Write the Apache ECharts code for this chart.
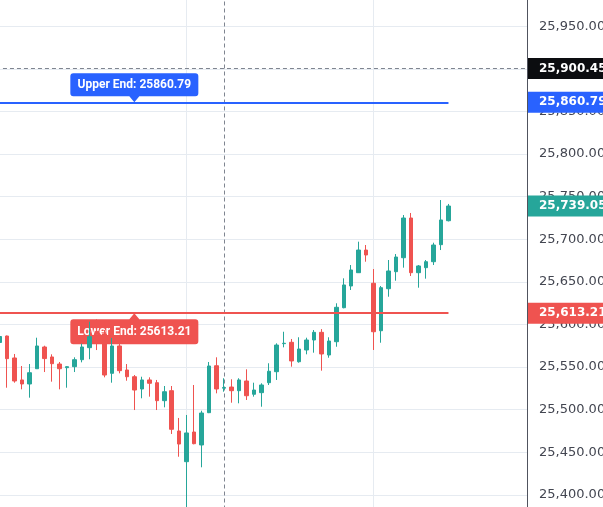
<!DOCTYPE html>
<html>
<head>
<meta charset="utf-8">
<script src="https://cdn.jsdelivr.net/npm/echarts@6/dist/echarts.min.js"></script>
<style>
html,body{margin:0;padding:0;background:#ffffff;}
#chart{width:603px;height:507px;}
</style>
</head>
<body>
<div id="chart"></div>
<script>
// ---- data ----
const categories = Array.from({ length: 71 }, (_, i) => 'Bar ' + (i + 1));

// [open, close, low, high]
const ohlc = [
  [25578.9, 25585.9, 25576.0, 25588.0],
  [25586.5, 25559.9, 25525.8, 25587.0],
  [25560.7, 25533.7, 25531.7, 25565.4],
  [25534.9, 25530.2, 25523.9, 25551.3],
  [25530.2, 25543.4, 25514.1, 25553.6],
  [25548.1, 25574.8, 25548.0, 25584.5],
  [25573.6, 25560.0, 25544.2, 25575.1],
  [25561.9, 25554.0, 25532.9, 25565.0],
  [25553.6, 25548.1, 25523.9, 25556.0],
  [25549.3, 25550.5, 25525.8, 25551.0],
  [25550.5, 25558.7, 25544.2, 25561.5],
  [25558.7, 25573.6, 25555.6, 25577.5],
  [25572.8, 25585.7, 25559.2, 25603.3],
  [25592.0, 25588.0, 25570.0, 25606.0],
  [25588.8, 25540.7, 25538.0, 25593.5],
  [25542.7, 25574.8, 25531.7, 25584.2],
  [25574.8, 25545.8, 25542.7, 25584.2],
  [25546.6, 25538.7, 25534.0, 25553.6],
  [25538.7, 25523.1, 25499.6, 25540.7],
  [25524.3, 25534.9, 25513.4, 25538.7],
  [25534.9, 25531.0, 25515.3, 25538.0],
  [25531.7, 25510.6, 25499.6, 25534.9],
  [25510.6, 25521.1, 25502.8, 25527.8],
  [25522.3, 25477.0, 25471.5, 25527.8],
  [25475.0, 25459.7, 25444.8, 25490.3],
  [25439.0, 25472.7, 25378.0, 25493.8],
  [25473.8, 25460.1, 25459.4, 25529.0],
  [25458.6, 25496.1, 25432.4, 25498.8],
  [25496.5, 25551.3, 25496.0, 25556.0],
  [25551.6, 25524.3, 25519.2, 25561.5],
  [25525.3, 25526.0, 25521.1, 25536.9],
  [25526.6, 25522.3, 25508.2, 25535.7],
  [25522.3, 25534.9, 25507.5, 25536.9],
  [25533.7, 25516.4, 25511.4, 25547.4],
  [25518.1, 25523.1, 25515.3, 25531.7],
  [25520.0, 25529.0, 25503.5, 25531.0],
  [25531.7, 25545.1, 25529.0, 25554.5],
  [25544.6, 25575.9, 25534.9, 25577.9],
  [25577.5, 25578.0, 25573.2, 25591.5],
  [25579.1, 25557.2, 25550.5, 25583.0],
  [25556.3, 25571.2, 25555.2, 25585.0],
  [25570.1, 25581.8, 25565.0, 25584.5],
  [25581.8, 25590.8, 25566.9, 25593.5],
  [25590.8, 25565.4, 25545.8, 25594.6],
  [25564.2, 25580.6, 25561.0, 25585.0],
  [25579.8, 25620.2, 25573.9, 25624.9],
  [25619.7, 25646.4, 25619.0, 25654.2],
  [25645.2, 25664.0, 25640.5, 25669.8],
  [25660.8, 25687.4, 25660.5, 25697.2],
  [25687.4, 25681.6, 25673.7, 25693.3],
  [25648.4, 25591.5, 25570.1, 25665.1],
  [25592.7, 25643.2, 25578.6, 25645.2],
  [25642.0, 25662.8, 25632.6, 25675.7],
  [25662.0, 25679.2, 25651.4, 25682.7],
  [25678.4, 25725.0, 25666.7, 25728.5],
  [25725.0, 25660.8, 25656.9, 25730.9],
  [25660.8, 25668.7, 25643.2, 25669.8],
  [25666.7, 25673.7, 25653.8, 25675.7],
  [25673.7, 25693.3, 25669.8, 25696.0],
  [25693.7, 25722.7, 25687.4, 25746.1],
  [25721.8, 25739.05, 25721.0, 25741.5]
];

const crosshairPrice = 25900.45;
const upperEnd = 25860.79;
const lowerEnd = 25613.21;
const lastClose = 25739.05;
const crosshairIndex = 30;
const gridlineIndexes = [25, 50];
const calloutIndex = 18;
const yMin = 25350, yMax = 26000, yStep = 50;

// ---- styles ----
const UP = '#26a69a', DOWN = '#ef5350', BLUE = '#2962ff', DARK = '#0c0d10';
const GRID = '#e6ebf1';
const CROSS = '#7f8590';

function fmt(v) {
  const s = Number(v).toFixed(2);
  const parts = s.split('.');
  return parts[0].replace(/\B(?=(\d{3})+(?!\d))/g, ',') + '.' + parts[1];
}

function tag(bg, value) {
  return {
    show: true, position: 'end', distance: 1,
    formatter: fmt(value),
    color: '#ffffff', backgroundColor: bg,
    fontFamily: 'DejaVu Sans', fontSize: 12, fontWeight: 'bold',
    lineHeight: 13, padding: [4, 8, 4, 11]
  };
}

const HIDDEN_LINE = { color: 'rgba(0,0,0,0)', width: 1, type: 'solid' };

const upperPath = 'path://M3,0L125,0Q128,0,128,3L128,20Q128,23,125,23L69,23L64,29L59,23L3,23Q0,23,0,20L0,3Q0,0,3,0Z';
const lowerPath = 'path://M3,6L59,6L64,0L69,6L125,6Q128,6,128,9L128,28Q128,31,125,31L3,31Q0,31,0,28L0,9Q0,6,3,6Z';

const lastIndex = ohlc.length - 1;

const chart = echarts.init(document.getElementById('chart'), null, { renderer: 'canvas' });

const option = {
  animation: false,
  backgroundColor: '#ffffff',
  grid: { left: -4.035, right: 76, top: -16.3, bottom: -30.5, containLabel: false, outerBoundsMode: 'none' },
  xAxis: {
    type: 'category', data: categories, boundaryGap: true,
    axisLine: { show: false }, axisTick: { show: false }, axisLabel: { show: false },
    splitLine: { show: false }
  },
  yAxis: {
    type: 'value', position: 'right', min: yMin, max: yMax, interval: yStep,
    axisLine: { show: true, lineStyle: { color: '#50535e', width: 1 } },
    axisTick: { show: false },
    axisLabel: { color: '#434651', fontSize: 13, fontFamily: 'DejaVu Sans', margin: 12, formatter: fmt },
    splitLine: { show: true, lineStyle: { color: GRID, width: 1 } }
  },
  series: [
    {
      type: 'line', data: [], silent: true,
      markLine: {
        z: 1, silent: true, symbol: 'none', animation: false,
        label: { show: false },
        data: gridlineIndexes.map(i => ({ xAxis: categories[i], lineStyle: { color: GRID, width: 1, type: 'solid' } }))
          .concat([{ xAxis: categories[crosshairIndex], lineStyle: { color: CROSS, width: 1, type: [4, 3] } }])
      }
    },
    {
      type: 'candlestick', data: ohlc, barWidth: 4,
      itemStyle: { color: UP, color0: DOWN, borderColor: UP, borderColor0: DOWN, borderWidth: 1 },
      markPoint: {
        z: 1, silent: true, animation: false,
        data: [
          {
            coord: [categories[calloutIndex], upperEnd], symbol: upperPath, symbolSize: [128, 29], symbolOffset: [0, '-50%'],
            itemStyle: { color: BLUE },
            label: { show: true, position: 'inside', offset: [0, -3], formatter: 'Upper End: ' + upperEnd, color: '#ffffff', fontSize: 12, fontFamily: 'Roboto', fontWeight: 'bold' }
          },
          {
            coord: [categories[calloutIndex], lowerEnd], symbol: lowerPath, symbolSize: [128, 31], symbolOffset: [0, '50%'],
            itemStyle: { color: DOWN },
            label: { show: true, position: 'inside', offset: [0, 3], formatter: 'Lower End: ' + lowerEnd, color: '#ffffff', fontSize: 12, fontFamily: 'Roboto', fontWeight: 'bold' }
          }
        ]
      },
      markLine: {
        silent: true, symbol: 'none', animation: false,
        label: { show: false },
        data: [
          [{ coord: [categories[0], upperEnd], lineStyle: { color: BLUE, width: 2, type: 'solid' } }, { coord: [categories[lastIndex], upperEnd] }],
          [{ coord: [categories[0], lowerEnd], lineStyle: { color: DOWN, width: 2, type: 'solid' } }, { coord: [categories[lastIndex], lowerEnd] }],
          { yAxis: crosshairPrice, lineStyle: { color: CROSS, width: 1, type: [4, 3] }, label: tag(DARK, crosshairPrice) },
          { yAxis: upperEnd, lineStyle: HIDDEN_LINE, label: tag(BLUE, upperEnd) },
          { yAxis: lastClose, lineStyle: HIDDEN_LINE, label: tag(UP, lastClose) },
          { yAxis: lowerEnd, lineStyle: HIDDEN_LINE, label: tag(DOWN, lowerEnd) }
        ]
      }
    }
  ]
};

chart.setOption(option);
</script>
</body>
</html>
